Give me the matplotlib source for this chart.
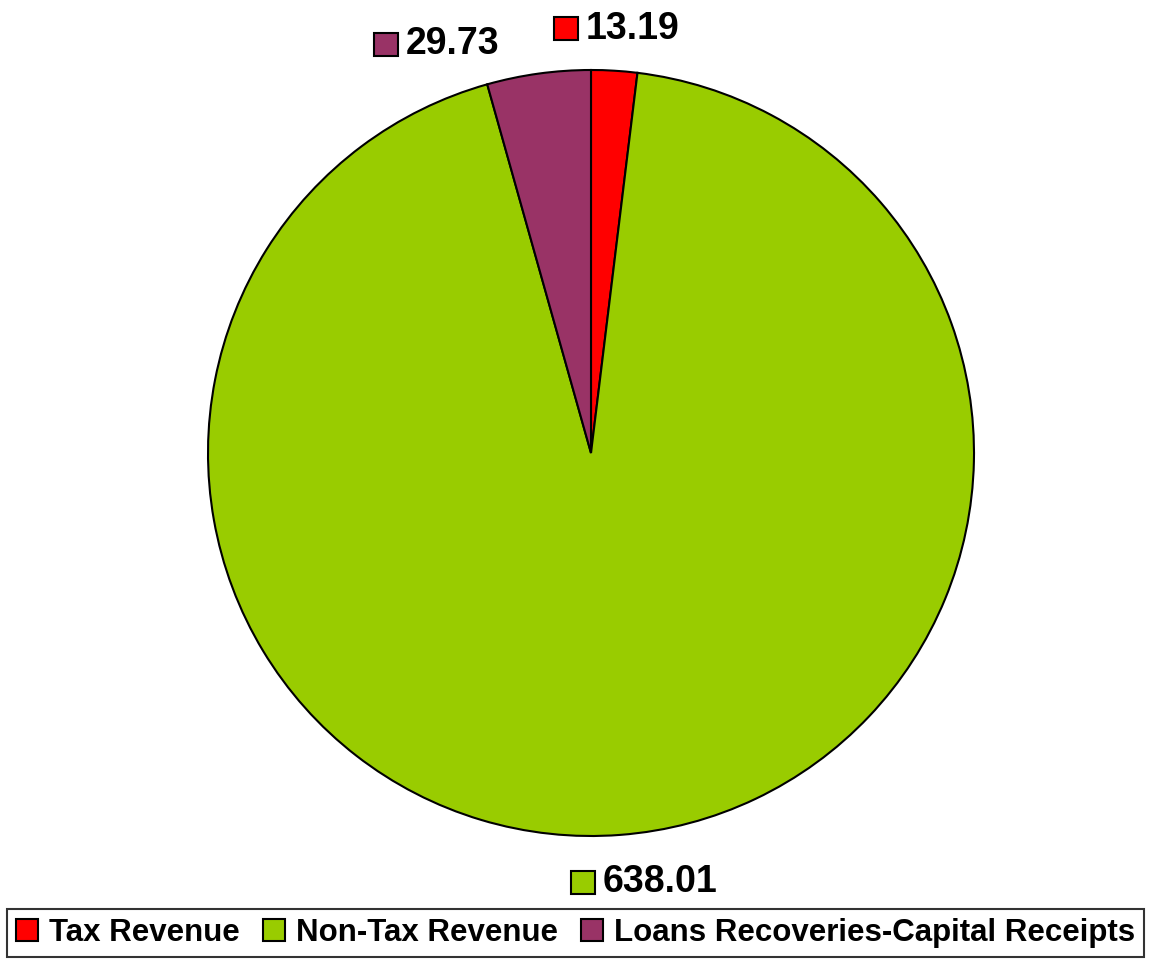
import numpy as np
import matplotlib.pyplot as plt
from matplotlib.patches import Patch, Rectangle
from matplotlib.offsetbox import AnnotationBbox, HPacker, DrawingArea, TextArea

plt.rcParams['font.family'] = ['Liberation Sans', 'DejaVu Sans']

categories = ['Tax Revenue', 'Non-Tax Revenue', 'Loans Recoveries-Capital Receipts']
values = [13.19, 638.01, 29.73]
colors = ['#FF0000', '#99CC00', '#993366']
# label placement: radial distance and angular nudge (deg) per slice
label_dist = [1.11, 1.13, 1.14]
label_nudge = [0.0, 2.7, 12.8]

fig = plt.figure(figsize=(11.51, 9.59), dpi=100)
ax = fig.add_axes([208 / 1151, 123 / 959, 766 / 1151, 766 / 959])

wedges, _ = ax.pie(values, colors=colors, startangle=90, counterclock=False,
                   wedgeprops=dict(edgecolor='black', linewidth=1.5))
ax.set_aspect('equal')
ax.set_xlim(-1, 1)
ax.set_ylim(-1, 1)

for w, v, c, d, nud in zip(wedges, values, colors, label_dist, label_nudge):
    mid = np.deg2rad((w.theta1 + w.theta2) / 2 + nud)
    x, y = d * np.cos(mid), d * np.sin(mid)
    key = DrawingArea(17, 17, 0, 0)
    key.add_artist(Rectangle((0, 0), 17, 17, facecolor=c, edgecolor='black', linewidth=1.5))
    txt = TextArea('%.2f' % v, textprops=dict(fontsize=27, fontweight='bold'))
    box = HPacker(children=[key, txt], align='center', pad=0, sep=6)
    ab = AnnotationBbox(box, (x, y), xycoords='data', frameon=False,
                        box_alignment=(0.5, 0.5), annotation_clip=False)
    ax.add_artist(ab)

handles = [Patch(facecolor=c, edgecolor='black', linewidth=1.5) for c in colors]
leg = fig.legend(handles, categories, loc='lower center', bbox_to_anchor=(0.5, 0.0),
                 ncol=3, prop=dict(weight='bold', size=22.5),
                 frameon=True, fancybox=False, edgecolor='black',
                 handlelength=0.7, handleheight=0.7, handletextpad=0.35,
                 columnspacing=0.75, borderpad=0.3, borderaxespad=0.05)
leg.get_frame().set_linewidth(1.5)

fig.savefig('out.png', dpi=100)
